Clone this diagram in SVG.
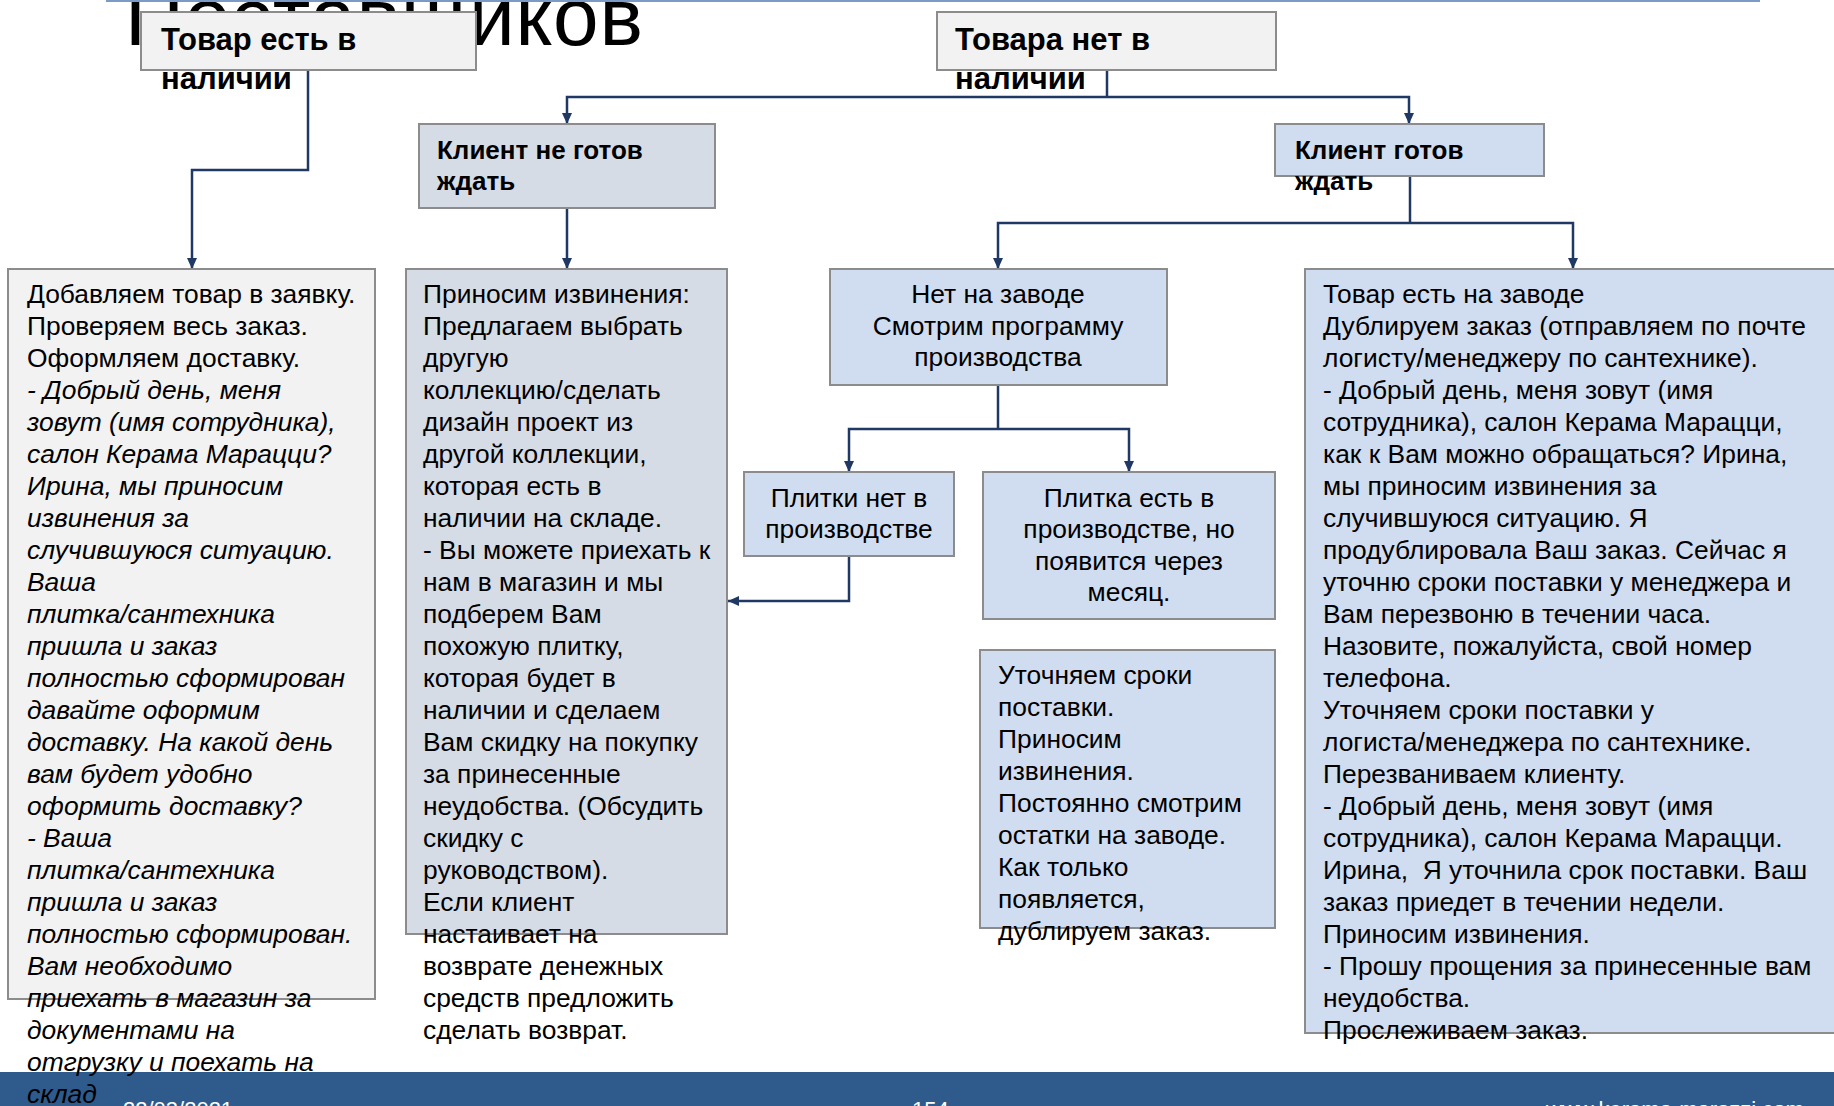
<svg xmlns="http://www.w3.org/2000/svg" width="1834" height="1106" viewBox="0 0 1834 1106">
<defs>
<style>
.t{font-family:"Liberation Sans",Arial,sans-serif;font-size:26.4px;fill:#000}
.h1{font-weight:bold;font-size:31px}
.h2{font-weight:bold;font-size:26px}
.it{font-style:italic}
.mid{text-anchor:middle}
.gray{fill:#f2f2f2;stroke:#8c8c8c;stroke-width:2}
.slate{fill:#d6dce5;stroke:#8c8c8c;stroke-width:2}
.blue{fill:#d0dcef;stroke:#8c8c8c;stroke-width:2}
.conn{fill:none;stroke:#203864;stroke-width:2.5}
.arr{marker-end:url(#ah)}
.foot{font-family:"Liberation Sans",Arial,sans-serif;font-size:22px;fill:#ffffff}
</style>
<marker id="ah" viewBox="0 0 11 10" markerWidth="11" markerHeight="10" refX="11" refY="5" orient="auto" markerUnits="userSpaceOnUse">
<path d="M0,0 L11,5 L0,10 z" fill="#203864"/>
</marker>
</defs>
<rect x="0" y="0" width="1834" height="1106" fill="#ffffff"/>
<text class="t" x="125" y="45" style="font-size:82px" textLength="518" lengthAdjust="spacing">Поставщиков</text>
<line x1="106" y1="1" x2="1760" y2="1" stroke="#7c9bc4" stroke-width="2"/>
<rect x="0" y="1072" width="1834" height="34" fill="#2e5b8c"/>
<text class="foot" x="123" y="1117">22/03/2021</text>
<text class="foot" x="912" y="1117">154</text>
<text class="foot" x="1546" y="1117">www.kerama-marazzi.com</text>

<g id="connectors">
<path class="conn arr" d="M308,70 V170 H192 V269"/>
<path class="conn" d="M1107,70 V97"/>
<path class="conn arr" d="M1107,97 H567 V124"/>
<path class="conn arr" d="M1107,97 H1409 V124"/>
<path class="conn arr" d="M567,208 V269"/>
<path class="conn" d="M1410,176 V223"/>
<path class="conn arr" d="M1410,223 H998 V269"/>
<path class="conn arr" d="M1410,223 H1573 V269"/>
<path class="conn" d="M998,385 V429"/>
<path class="conn arr" d="M998,429 H849 V472"/>
<path class="conn arr" d="M998,429 H1129 V472"/>
<path class="conn arr" d="M849,556 V601 H728"/>
</g>

<g id="n-in-stock">
<rect class="gray" x="141" y="12" width="335" height="58"/>
<text class="t h1"><tspan x="161" y="50">Товар есть в</tspan><tspan x="161" y="89">наличии</tspan></text>
</g>
<g id="n-out-of-stock">
<rect class="gray" x="937" y="12" width="339" height="58"/>
<text class="t h1"><tspan x="955" y="50">Товара нет в</tspan><tspan x="955" y="89">наличии</tspan></text>
</g>
<g id="n-not-ready">
<rect class="slate" x="419" y="124" width="296" height="84"/>
<text class="t h2"><tspan x="437" y="159">Клиент не готов</tspan><tspan x="437" y="190">ждать</tspan></text>
</g>
<g id="n-ready">
<rect class="blue" x="1275" y="124" width="269" height="52"/>
<text class="t h2"><tspan x="1295" y="159">Клиент готов</tspan><tspan x="1295" y="190">ждать</tspan></text>
</g>

<g id="n-add">
<rect class="gray" x="8" y="269" width="367" height="730"/>
<text class="t">
<tspan x="27" y="303">Добавляем товар в заявку.</tspan>
<tspan x="27" y="335">Проверяем весь заказ.</tspan>
<tspan x="27" y="367">Оформляем доставку.</tspan>
<tspan class="it" x="27" y="399">- Добрый день, меня</tspan>
<tspan class="it" x="27" y="431">зовут (имя сотрудника),</tspan>
<tspan class="it" x="27" y="463">салон Керама Марацци?</tspan>
<tspan class="it" x="27" y="495">Ирина, мы приносим</tspan>
<tspan class="it" x="27" y="527">извинения за</tspan>
<tspan class="it" x="27" y="559">случившуюся ситуацию.</tspan>
<tspan class="it" x="27" y="591">Ваша</tspan>
<tspan class="it" x="27" y="623">плитка/сантехника</tspan>
<tspan class="it" x="27" y="655">пришла и заказ</tspan>
<tspan class="it" x="27" y="687">полностью сформирован</tspan>
<tspan class="it" x="27" y="719">давайте оформим</tspan>
<tspan class="it" x="27" y="751">доставку. На какой день</tspan>
<tspan class="it" x="27" y="783">вам будет удобно</tspan>
<tspan class="it" x="27" y="815">оформить доставку?</tspan>
<tspan class="it" x="27" y="847">- Ваша</tspan>
<tspan class="it" x="27" y="879">плитка/сантехника</tspan>
<tspan class="it" x="27" y="911">пришла и заказ</tspan>
<tspan class="it" x="27" y="943">полностью сформирован.</tspan>
<tspan class="it" x="27" y="975">Вам необходимо</tspan>
<tspan class="it" x="27" y="1007">приехать в магазин за</tspan>
<tspan class="it" x="27" y="1039">документами на</tspan>
<tspan class="it" x="27" y="1071">отгрузку и поехать на</tspan>
<tspan class="it" x="27" y="1103">склад</tspan>
</text>
</g>

<g id="n-apologize">
<rect class="slate" x="406" y="269" width="321" height="665"/>
<text class="t">
<tspan x="423" y="303">Приносим извинения:</tspan>
<tspan x="423" y="335">Предлагаем выбрать</tspan>
<tspan x="423" y="367">другую</tspan>
<tspan x="423" y="399">коллекцию/сделать</tspan>
<tspan x="423" y="431">дизайн проект из</tspan>
<tspan x="423" y="463">другой коллекции,</tspan>
<tspan x="423" y="495">которая есть в</tspan>
<tspan x="423" y="527">наличии на складе.</tspan>
<tspan x="423" y="559">- Вы можете приехать к</tspan>
<tspan x="423" y="591">нам в магазин и мы</tspan>
<tspan x="423" y="623">подберем Вам</tspan>
<tspan x="423" y="655">похожую плитку,</tspan>
<tspan x="423" y="687">которая будет в</tspan>
<tspan x="423" y="719">наличии и сделаем</tspan>
<tspan x="423" y="751">Вам скидку на покупку</tspan>
<tspan x="423" y="783">за принесенные</tspan>
<tspan x="423" y="815">неудобства. (Обсудить</tspan>
<tspan x="423" y="847">скидку с</tspan>
<tspan x="423" y="879">руководством).</tspan>
<tspan x="423" y="911">Если клиент</tspan>
<tspan x="423" y="943">настаивает на</tspan>
<tspan x="423" y="975">возврате денежных</tspan>
<tspan x="423" y="1007">средств предложить</tspan>
<tspan x="423" y="1039">сделать возврат.</tspan>
</text>
</g>

<g id="n-not-at-factory">
<rect class="blue" x="830" y="269" width="337" height="116"/>
<text class="t mid"><tspan x="998" y="303">Нет на заводе</tspan><tspan x="998" y="335">Смотрим программу</tspan><tspan x="998" y="366">производства</tspan></text>
</g>
<g id="n-not-in-production">
<rect class="blue" x="744" y="472" width="210" height="84"/>
<text class="t mid"><tspan x="849" y="507">Плитки нет в</tspan><tspan x="849" y="538">производстве</tspan></text>
</g>
<g id="n-in-production">
<rect class="blue" x="983" y="472" width="292" height="147"/>
<text class="t mid"><tspan x="1129" y="507">Плитка есть в</tspan><tspan x="1129" y="538">производстве, но</tspan><tspan x="1129" y="570">появится через</tspan><tspan x="1129" y="601">месяц.</tspan></text>
</g>
<g id="n-clarify">
<rect class="blue" x="980" y="650" width="295" height="278"/>
<text class="t">
<tspan x="998" y="684">Уточняем сроки</tspan>
<tspan x="998" y="716">поставки.</tspan>
<tspan x="998" y="748">Приносим</tspan>
<tspan x="998" y="780">извинения.</tspan>
<tspan x="998" y="812">Постоянно смотрим</tspan>
<tspan x="998" y="844">остатки на заводе.</tspan>
<tspan x="998" y="876">Как только</tspan>
<tspan x="998" y="908">появляется,</tspan>
<tspan x="998" y="940">дублируем заказ.</tspan>
</text>
</g>

<g id="n-at-factory">
<rect class="blue" x="1305" y="269" width="545" height="764"/>
<text class="t">
<tspan x="1323" y="303">Товар есть на заводе</tspan>
<tspan x="1323" y="335">Дублируем заказ (отправляем по почте</tspan>
<tspan x="1323" y="367">логисту/менеджеру по сантехнике).</tspan>
<tspan x="1323" y="399">- Добрый день, меня зовут (имя</tspan>
<tspan x="1323" y="431">сотрудника), салон Керама Марацци,</tspan>
<tspan x="1323" y="463">как к Вам можно обращаться? Ирина,</tspan>
<tspan x="1323" y="495">мы приносим извинения за</tspan>
<tspan x="1323" y="527">случившуюся ситуацию. Я</tspan>
<tspan x="1323" y="559">продублировала Ваш заказ. Сейчас я</tspan>
<tspan x="1323" y="591">уточню сроки поставки у менеджера и</tspan>
<tspan x="1323" y="623">Вам перезвоню в течении часа.</tspan>
<tspan x="1323" y="655">Назовите, пожалуйста, свой номер</tspan>
<tspan x="1323" y="687">телефона.</tspan>
<tspan x="1323" y="719">Уточняем сроки поставки у</tspan>
<tspan x="1323" y="751">логиста/менеджера по сантехнике.</tspan>
<tspan x="1323" y="783">Перезваниваем клиенту.</tspan>
<tspan x="1323" y="815">- Добрый день, меня зовут (имя</tspan>
<tspan x="1323" y="847">сотрудника), салон Керама Марацци.</tspan>
<tspan x="1323" y="879" xml:space="preserve">Ирина,  Я уточнила срок поставки. Ваш</tspan>
<tspan x="1323" y="911">заказ приедет в течении недели.</tspan>
<tspan x="1323" y="943">Приносим извинения.</tspan>
<tspan x="1323" y="975">- Прошу прощения за принесенные вам</tspan>
<tspan x="1323" y="1007">неудобства.</tspan>
<tspan x="1323" y="1039">Прослеживаем заказ.</tspan>
</text>
</g>
</svg>
